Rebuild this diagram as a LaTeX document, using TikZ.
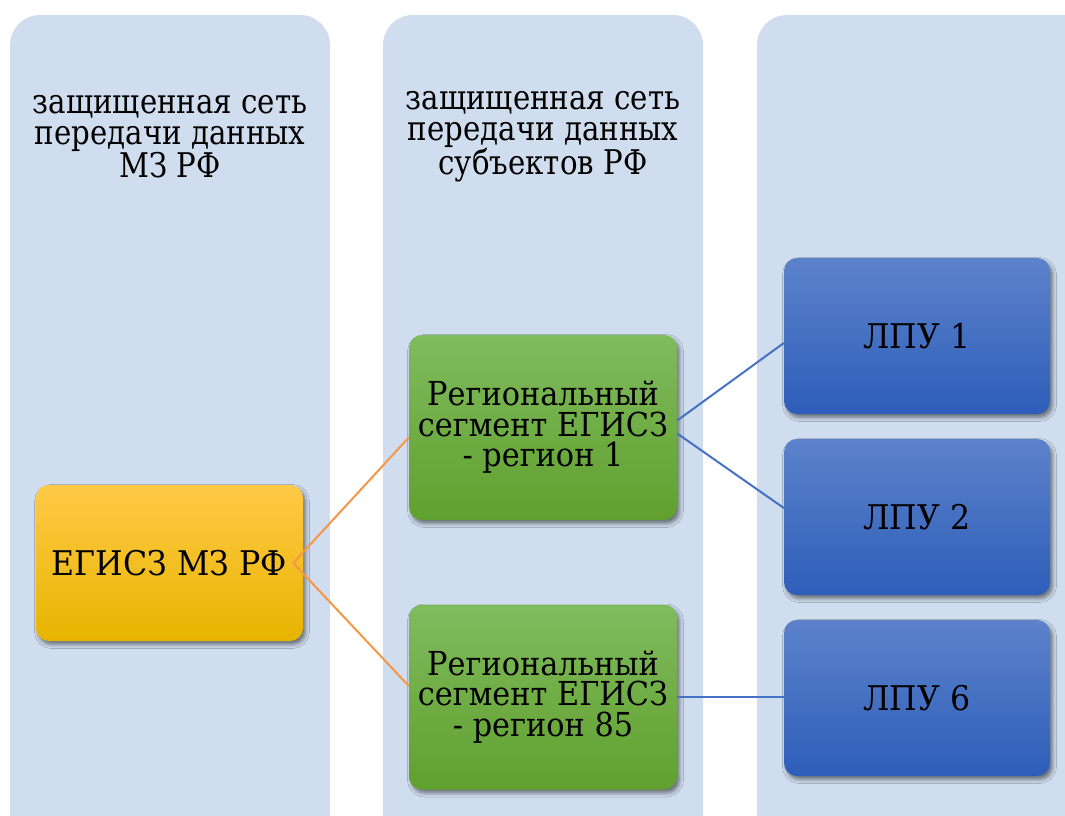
\documentclass[tikz,border=0pt]{standalone}
\usepackage{fontspec}
\setmainfont{DejaVu Serif}
\newfontfamily\hfont{DejaVu Serif}[FakeStretch=0.86]
\newfontfamily\bfontx{DejaVu Serif}[FakeStretch=0.93]
\newfontfamily\gfont{DejaVu Serif}[FakeStretch=0.92]
\usetikzlibrary{shadows.blur}
\definecolor{colbg}{RGB}{207,221,238}
\definecolor{ytop}{RGB}{255,202,70}
\definecolor{ybot}{RGB}{232,180,0}
\definecolor{gtop}{RGB}{128,187,94}
\definecolor{gbot}{RGB}{96,160,46}
\definecolor{btop}{RGB}{92,130,202}
\definecolor{bbot}{RGB}{46,94,186}
\definecolor{oline}{RGB}{247,150,70}
\definecolor{bline}{RGB}{68,114,196}
\begin{document}
\begin{tikzpicture}[x=1pt,y=-1pt,
  box/.style={rounded corners=13pt, inner sep=0pt, align=center,
    font=\bfontx\fontsize{34}{30}\selectfont,
    blur shadow={shadow xshift=2.5pt, shadow yshift=-3.5pt, shadow blur radius=4pt, shadow opacity=50}},
  ybox/.style={box, top color=ytop, bottom color=ybot, minimum width=267pt, minimum height=156pt},
  gbox/.style={box, top color=gtop, bottom color=gbot, minimum width=268pt, minimum height=185pt,
    font=\gfont\fontsize{33}{30.5}\selectfont},
  bbox/.style={box, top color=btop, bottom color=bbot, minimum width=266pt, minimum height=156pt},
  colhead/.style={align=center, inner sep=0pt, font=\hfont\fontsize{34}{30.5}\selectfont},
  oedge/.style={draw=oline, line width=2pt},
  bedge/.style={draw=bline, line width=2pt}]
\useasboundingbox (0,0) rectangle (1065,816);
\begin{scope}
\clip (0,0) rectangle (1065,816);
\fill[colbg, rounded corners=30pt] (10,15) rectangle (330,846);
\fill[colbg, rounded corners=30pt] (383,15) rectangle (703,846);
\fill[colbg, rounded corners=30pt] (757,15) rectangle (1095,846);
\end{scope}
\node[colhead] (h1) at (170,137) {защищенная сеть\\передачи данных\\МЗ РФ};
\node[colhead] (h2) at (543,137) {защищенная сеть\\передачи данных\\субъектов РФ};

\node[ybox] (e) at (169.5,563) {ЕГИСЗ МЗ РФ};
\node[gbox] (r1) at (543,427.5) {Региональный\\сегмент ЕГИСЗ\\- регион 1};
\node[gbox] (r85) at (543,697) {Региональный\\сегмент ЕГИСЗ\\- регион 85};
\node[bbox] (l1) at (917,336) {ЛПУ 1};
\node[bbox] (l2) at (917,517) {ЛПУ 2};
\node[bbox] (l6) at (917,698) {ЛПУ 6};

\draw[oedge] ([xshift=-10pt]e.east) -- ([yshift=-10pt]r1.west);
\draw[oedge] ([xshift=-10pt]e.east) -- ([yshift=11pt]r85.west);
\draw[bedge] ([yshift=7pt]r1.east) -- ([yshift=-7pt]l1.west);
\draw[bedge] ([yshift=-6pt]r1.east) -- ([yshift=9pt]l2.west);
\draw[bedge] (r85.east) -- (r85.east -| l6.west);
\end{tikzpicture}
\end{document}
